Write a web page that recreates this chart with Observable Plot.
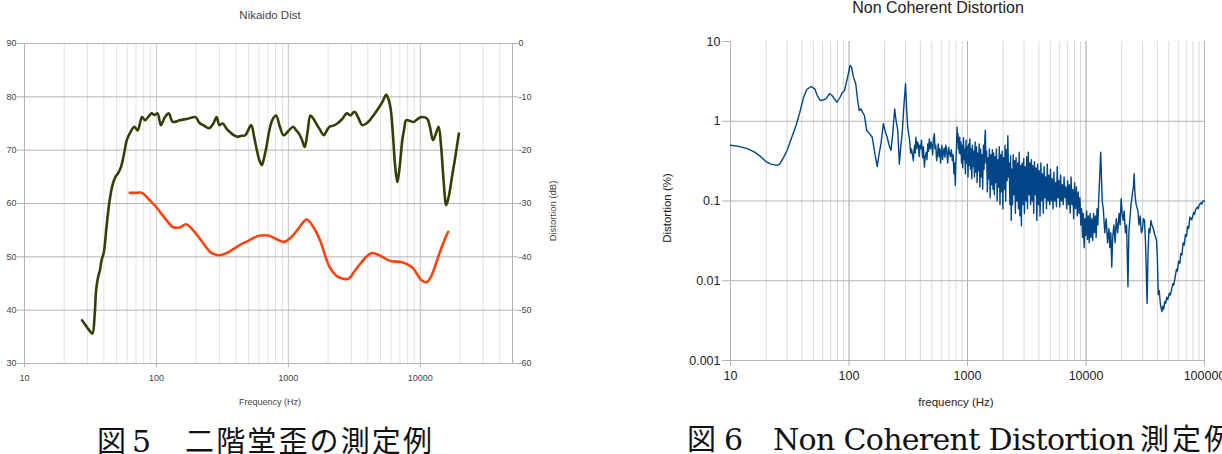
<!DOCTYPE html>
<html><head><meta charset="utf-8">
<script src="https://cdn.jsdelivr.net/npm/d3@7"></script>
<script src="https://cdn.jsdelivr.net/npm/@observablehq/plot@0.6"></script>
<style>
body{margin:0;background:#fff;}
#wrap{position:relative;width:1222px;height:454px;overflow:hidden;background:#fff;font-family:"Liberation Sans",Arial,sans-serif;}
.abs{position:absolute;white-space:nowrap;line-height:1;}
.c{transform:translate(-50%,-50%);}
.r{transform:translate(-50%,-50%) rotate(-90deg);}
#left,#right{position:absolute;top:0;}
#left{left:0}
#right{left:622px}
#cap{position:absolute;left:0;top:0;}
</style></head><body>
<div id="wrap">
  <div id="left"></div>
  <div id="right"></div>
  <div class="abs c" style="left:270px;top:16px;font-size:11.5px;color:#444">Nikaido Dist</div>
  <div class="abs c" style="left:270px;top:402px;font-size:9px;color:#444">Frequency (Hz)</div>
  <div class="abs r" style="left:553px;top:211px;font-size:9.5px;color:#444">Distortion (dB)</div>
  <div class="abs c" style="left:938px;top:8px;font-size:16px;color:#222">Non Coherent Distortion</div>
  <div class="abs r" style="left:668px;top:208px;font-size:11.5px;color:#222">Distortion (%)</div>
  <div class="abs c" style="left:956px;top:403px;font-size:11.5px;color:#222">frequency (Hz)</div>
  <svg id="cap" width="1222" height="454">
    <g fill="#111">
      <text x="97" y="452" font-size="29" font-family="Noto Sans CJK JP">図</text>
      <text x="132" y="452" font-size="30" font-family="DejaVu Serif">5</text>
      <text x="185" y="452" font-size="29" font-family="Noto Sans CJK JP" textLength="247" lengthAdjust="spacing">二階堂歪の測定例</text>
      <text x="687" y="450" font-size="29" font-family="Noto Sans CJK JP">図</text>
      <text x="724" y="450" font-size="30" font-family="DejaVu Serif">6</text>
      <text x="773" y="450" font-size="30" font-family="DejaVu Serif" textLength="362" lengthAdjust="spacing">Non Coherent Distortion</text>
      <text x="1140" y="450" font-size="29" font-family="Noto Sans CJK JP" textLength="93" lengthAdjust="spacing">測定例</text>
    </g>
  </svg>
</div>
<script>
// ---------- Fig.5 : Nikaido distortion ----------
const nikXTicks = [10, 100, 1000, 10000];
const nikXLabels = ["10", "100", "1000", "10000"];
const nikLeftTicks = [30, 40, 50, 60, 70, 80, 90];
const nikLeftLabels = ["30", "40", "50", "60", "70", "80", "90"];
const nikRightLabels = ["-60", "-50", "-40", "-30", "-20", "-10", "0"];
const nikRightOffset = 90; // right axis (dB distortion) -60..0 shares the left 30..90 frame

// frequency (Hz), level (dB) – response (green)
const nikResponse = [
  [27.3,38.1],[29,37.2],[31,36.2],[32.7,35.6],[34,39],[34.9,43.7],[36,46],[37.3,47.5],[38.5,49.5],[39.9,50.8],
  [42,56],[44.2,60.6],[46.5,63.5],[48.9,65.0],[51,65.6],[54,66.9],[57,69.5],[59.6,71.9],[63,73.2],[68.1,74.4],
  [72,73.7],[77.8,76.2],[82,75.6],[87,76.3],[92,76.9],[97,76.6],[102,76.9],[108,74.7],[116,76.2],[124,76.9],
  [133,75.3],[150,75.6],[173,75.9],[198,76.2],[212,75.1],[230,74.6],[250,74.1],[270,75.0],[286,76.2],[300,74.7],
  [318,75.0],[340,74.0],[361,73.4],[385,72.8],[414,72.5],[440,72.7],[472,72.8],[522,74.7],[550,72.5],[577,70.0],
  [605,68.0],[630,67.2],[655,68.6],[682,70.6],[715,73.5],[754,75.6],[807,76.5],[860,74.5],[921,72.8],[1000,73.6],
  [1089,74.4],[1140,73.8],[1203,73.1],[1265,72.0],[1330,70.6],[1400,73.5],[1470,76.5],[1540,76.0],[1625,75.0],[1740,73.8],
  [1858,72.8],[1950,73.6],[2052,74.4],[2200,74.6],[2346,75.0],[2550,75.8],[2774,76.9],[2950,76.5],[3170,77.2],[3400,76.0],
  [3625,74.7],[3900,75.0],[4140,75.6],[4500,76.8],[4890,78.1],[5200,79.2],[5520,80.4],[5750,79.5],[5980,77.5],[6200,73.0],
  [6450,67.0],[6700,64.0],[6950,66.5],[7310,71.9],[7560,74.0],[7810,75.6],[8300,75.5],[8930,75.3],[9500,75.8],[10200,76.2],
  [11270,75.9],[11800,74.5],[12470,71.9],[13000,72.8],[13770,74.4],[14400,70.5],[15000,64.5],[15740,59.7],[16500,61.5],[17390,65.0],
  [18500,69.0],[19600,73.1]
];
// frequency (Hz), distortion (dB) – Nikaido distortion (red)
const nikDistortion = [
  [62.8,-28.0],[70,-28.0],[77.8,-28.0],[88.9,-29.4],[100,-30.7],[109,-31.9],[120,-33.2],[133,-34.4],[150,-34.5],[168,-33.9],
  [185,-34.7],[205,-36.0],[227,-37.5],[260,-39.2],[296,-39.7],[340,-39.3],[386,-38.5],[440,-37.6],[505,-36.9],[560,-36.3],
  [617,-36.0],[705,-36.0],[800,-36.6],[921,-37.2],[1054,-36.3],[1200,-34.6],[1377,-33.0],[1572,-34.7],[1738,-36.9],[2052,-41.9],
  [2300,-43.5],[2595,-44.1],[2871,-44.1],[3150,-42.8],[3510,-41.3],[3900,-40.0],[4290,-39.3],[4890,-39.7],[5980,-40.8],[7310,-41.0],
  [8630,-41.9],[9500,-43.3],[10200,-44.4],[11270,-44.7],[12000,-43.8],[12880,-41.9],[14000,-39.3],[15230,-36.9],[16270,-35.3]
];

// ---------- Fig.6 : Non coherent distortion ----------
const ncdXTicks = [10, 100, 1000, 10000, 100000];
const ncdXLabels = ["10", "100", "1000", "10000", "100000"];
const ncdXMajorGrid = [100, 1000, 10000, 100000];
const ncdYTicks = [0.001, 0.01, 0.1, 1, 10];
const ncdYLabels = ["0.001", "0.01", "0.1", "1", "10"];
const ncdYGrid = [0.001, 0.01, 0.1, 1];

// frequency (Hz), distortion (%)
const ncdCurve = [
  [10,0.50],[12,0.48],[14,0.45],[16,0.41],[18,0.36],[20,0.31],[22,0.29],[24.5,0.28],[26,0.29],[28,0.35],
  [30,0.43],[32.5,0.6],[35.8,0.89],[38.5,1.3],[41.4,2.0],[44,2.5],[47.9,2.73],[51.4,2.55],[54,2.1],[57.2,1.82],
  [60.5,1.85],[63.8,1.91],[68.6,2.21],[72,2.1],[75.5,1.9],[79.3,1.73],[84,2.0],[88,2.3],[91.6,2.43],[96,3.25],
  [100,4.3],[102,5.0],[105,4.76],[109,3.6],[114,2.95],[118,1.9],[122,1.36],[126,1.43],[130,1.3],[135,1.18],
  [141,0.77],[149,0.7],[157,0.63],[165,0.4],[173,0.27],[180,0.4],[186,0.52],[195,0.93],[202,0.75],[210,0.63],
  [218,0.5],[226,0.43],[234,0.7],[243,1.43],[250,1.0],[258,0.77],[266,0.29],[274,0.5],[281,0.70],[290,1.5],
  [300,2.95],[306,1.5],[313,0.84],[325,0.57],[331,0.4],[337,0.45],[343,0.38],[349,0.32],[353,0.42],[358,0.5],
  [362,0.4],[367,0.63],[373,0.45],[379,0.55],[385,0.5],[391,0.36],[396,0.5],[402,0.45],[409,0.58],[418,0.35],
  [425,0.48],[433,0.266],[440,0.36],[449,0.41],[455,0.33],[462,0.52],[469,0.42],[476,0.60],[484,0.45],[492,0.55],
  [500,0.5],[508,0.38],[516,0.6],[525,0.70],[532,0.45],[540,0.5],[549,0.32],[558,0.39],[567,0.52],[575,0.36],
  [583,0.45],[592,0.3],[600,0.42],[608,0.50],[616,0.33],[625,0.4],[635,0.46],[645,0.354],[656,0.5],[668,0.42],
  [680,0.3],[693,0.47],[705,0.4],[718,0.36],[730,0.44],[745,0.32],[757,0.38],[768,0.22],[778,0.3],[789,0.156],
  [797,0.3],[805,0.4],[811,0.6],[817,0.84],[825,0.55],[831,0.7],[838,0.45],[846,0.62],[852,0.4],[859,0.63],
  [870,0.39],[880,0.55],[890,0.3],[900,0.5],[912,0.26],[925,0.62],[935,0.33],[948,0.45],[960,0.22],[972,0.58],
  [985,0.3],[997,0.48],[1010,0.2],[1022,0.52],[1035,0.28],[1048,0.6],[1060,0.25],[1074,0.45],[1088,0.19],[1100,0.5],
  [1115,0.27],[1130,0.42],[1145,0.2],
  [1160,0.55],[1175,0.23],[1190,0.48],[1205,0.17],[1220,0.4],[1238,0.24],[1255,0.52],[1272,0.15],[1290,0.45],[1308,0.2],
  [1325,0.38],[1343,0.14],[1362,0.5],[1380,0.25],[1400,0.6],[1415,0.77],[1430,0.3],[1450,0.42],[1470,0.13],[1490,0.35],
  [1510,0.19],[1530,0.45],[1552,0.11],[1575,0.38],[1598,0.16],[1620,0.44],[1640,0.14],
  [1662,0.4],[1685,0.12],[1708,0.36],[1730,0.17],[1755,0.45],[1780,0.1],[1805,0.33],[1830,0.15],[1855,0.48],[1880,0.09],
  [1905,0.38],[1932,0.13],[1960,0.42],[1987,0.08],[2015,0.35],[2045,0.14],[2075,0.5],[2100,0.1],[2130,0.44],[2160,0.18],
  [2190,0.66],[2220,0.2],[2250,0.3],[2280,0.09],[2310,0.37],[2340,0.057],[2365,0.25],
  [2395,0.09],[2430,0.38],[2465,0.12],[2500,0.32],[2535,0.07],[2570,0.35],[2610,0.1],[2650,0.3],[2690,0.08],[2730,0.41],
  [2770,0.065],[2810,0.28],[2850,0.049],[2890,0.3],[2935,0.09],[2980,0.34],[3025,0.07],[3070,0.27],[3115,0.1],[3160,0.36],
  [3210,0.08],[3260,0.41],[3310,0.12],[3360,0.3],
  [3410,0.09],[3460,0.33],[3510,0.1],[3565,0.28],[3620,0.07],[3675,0.31],[3730,0.12],[3790,0.26],[3850,0.057],[3910,0.29],
  [3970,0.09],[4030,0.24],[4095,0.065],[4160,0.3],[4225,0.1],[4290,0.22],[4360,0.07],[4430,0.27],[4500,0.11],[4570,0.2],
  [4640,0.08],[4715,0.29],[4790,0.1],[4860,0.21],
  [4940,0.09],[5020,0.25],[5100,0.1],[5185,0.19],[5270,0.08],[5360,0.23],[5450,0.1],[5540,0.17],[5630,0.085],[5720,0.27],
  [5815,0.11],[5910,0.18],[6010,0.084],[6110,0.21],[6210,0.1],[6315,0.16],[6420,0.09],[6530,0.2],[6640,0.11],[6750,0.15],
  [6870,0.08],[6990,0.18],
  [7110,0.09],[7230,0.16],[7350,0.07],[7480,0.2],[7610,0.09],[7740,0.14],[7870,0.06],[8010,0.17],[8150,0.08],[8300,0.15],
  [8440,0.065],[8590,0.13],[8740,0.07],[8890,0.11],[9040,0.05],
  [9190,0.08],[9350,0.035],[9500,0.07],[9640,0.026],[9800,0.06],[9960,0.037],[10130,0.075],[10300,0.033],[10470,0.065],[10650,0.03],
  [10830,0.07],[11010,0.035],[11200,0.06],[11390,0.032],[11580,0.07],[11780,0.04],[11980,0.065],[12180,0.035],[12390,0.08],[12600,0.05],
  [12850,0.12],[13050,0.2],[13300,0.41],[13500,0.2],[13700,0.1],
  [14000,0.08],[14400,0.04],[14800,0.06],[15200,0.03],[15600,0.045],[15900,0.026],[16200,0.04],[16500,0.0148],[16800,0.035],[17200,0.05],
  [17600,0.03],[18000,0.06],[18500,0.04],[19000,0.07],[19400,0.05],[19800,0.107],[20200,0.07],[20600,0.057],[21000,0.075],[21500,0.04],
  [22000,0.05],[22600,0.0084],[23000,0.04],[23400,0.057],[24000,0.09],[24600,0.12],[25100,0.15],[25500,0.22],[25900,0.12],[26500,0.09],
  [27400,0.076],[28000,0.05],[28700,0.065],[29300,0.04],[29900,0.043],[30500,0.06],[31200,0.057],[31800,0.03],[32300,0.012],[32800,0.0052],
  [33300,0.02],[34000,0.045],[34600,0.04],[35300,0.057],[36000,0.05],[37000,0.045],[38000,0.038],[39400,0.032],[40000,0.02],[40700,0.0067],
  [41500,0.0075],[42500,0.005],[43700,0.0041],[44500,0.0048],[45300,0.0044],[46200,0.0055],[47000,0.0052],[48000,0.0062],[49000,0.0058],[50500,0.007],
  [51500,0.0066],[52500,0.0075],[54000,0.0092],[55000,0.0088],[56500,0.011],[58000,0.014],[59000,0.0132],[60500,0.0176],[62000,0.0165],[63000,0.022],
  [64500,0.021],[66000,0.03],[67500,0.028],[69000,0.038],[70500,0.036],[72000,0.048],[73500,0.045],[75300,0.063],[78000,0.058],[81000,0.072],
  [82500,0.068],[84000,0.078],[86900,0.084],[88500,0.08],[90000,0.088],[93000,0.095],[95000,0.092],[97000,0.1],[100000,0.1]
];

const lab = (ticks, labels) => { const m = new Map(ticks.map((t, i) => [t, labels[i]])); return d => m.get(d) ?? ""; };

const left = Plot.plot({
  width: 600, height: 454,
  marginLeft: 24, marginRight: 88, marginTop: 43, marginBottom: 91,
  x: {type: "log", domain: [10, 50000]},
  y: {domain: [30, 90]},
  style: {fontFamily: "Liberation Sans, Arial, sans-serif", fontSize: "9px", color: "#444", background: "transparent"},
  marks: [
    Plot.gridX({ticks: 40, stroke: "#e2e2e2", strokeOpacity: 1}),
    Plot.gridX({ticks: nikXTicks, stroke: "#cbcbcb", strokeOpacity: 1}),
    Plot.gridY({ticks: nikLeftTicks, stroke: "#b3b3b3", strokeOpacity: 1}),
    Plot.frame({stroke: "#b3b3b3"}),
    Plot.axisX({ticks: nikXTicks, tickFormat: lab(nikXTicks, nikXLabels), tickSize: 4, tickPadding: 7, stroke: "#b3b3b3", fill: "#444", label: null}),
    Plot.axisY({ticks: nikLeftTicks, tickFormat: lab(nikLeftTicks, nikLeftLabels), tickSize: 7, tickPadding: 1, stroke: "#b3b3b3", fill: "#444", label: null}),
    Plot.axisY({anchor: "right", ticks: nikLeftTicks, tickFormat: lab(nikLeftTicks, nikRightLabels), tickSize: 5, tickPadding: 1, stroke: "#b3b3b3", fill: "#444", label: null}),
    Plot.line(nikResponse, {x: d => d[0], y: d => d[1], stroke: "#314004", strokeWidth: 2.6, curve: "catmull-rom"}),
    Plot.line(nikDistortion, {x: d => d[0], y: d => d[1] + nikRightOffset, stroke: "#ff420e", strokeWidth: 2.6, curve: "catmull-rom"})
  ]
});
document.getElementById("left").append(left);

const right = Plot.plot({
  width: 600, height: 454,
  marginLeft: 108, marginRight: 18, marginTop: 41, marginBottom: 94,
  x: {type: "log", domain: [10, 100000]},
  y: {type: "log", domain: [0.001, 10]},
  style: {fontFamily: "Liberation Sans, Arial, sans-serif", fontSize: "12.5px", color: "#222", background: "transparent"},
  marks: [
    Plot.gridX({ticks: 40, stroke: "#d8d8d8", strokeOpacity: 1}),
    Plot.gridX({ticks: ncdXMajorGrid, stroke: "#b3b3b3", strokeOpacity: 1}),
    Plot.gridY({ticks: ncdYGrid, stroke: "#b3b3b3", strokeOpacity: 1}),
    Plot.ruleX([10], {stroke: "#b3b3b3"}),
    Plot.axisX({ticks: ncdXTicks, tickFormat: lab(ncdXTicks, ncdXLabels), tickSize: 6, tickPadding: 5, stroke: "#b3b3b3", fill: "#222", label: null}),
    Plot.axisY({ticks: ncdYTicks, tickFormat: lab(ncdYTicks, ncdYLabels), tickSize: 8, tickPadding: 2, stroke: "#b3b3b3", fill: "#222", label: null}),
    Plot.line(ncdCurve, {x: d => d[0], y: d => d[1], stroke: "#004586", strokeWidth: 1.4})
  ]
});
document.getElementById("right").append(right);
</script>
</body></html>
